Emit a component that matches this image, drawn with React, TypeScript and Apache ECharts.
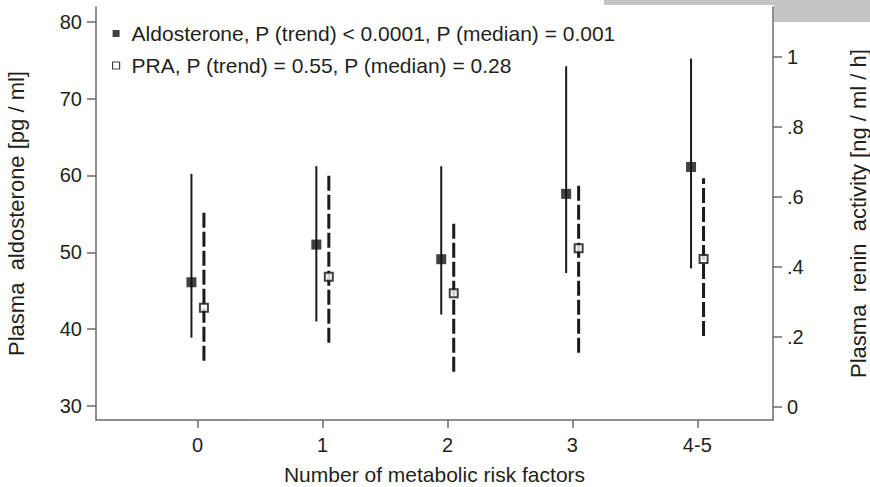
import React, { useEffect, useRef } from "react";
import * as echarts from "echarts";

const categories = ["0", "1", "2", "3", "4-5"];
const aldoMedian = [46.1, 51.0, 49.1, 57.6, 61.1];
const aldoLow = [38.9, 41.0, 41.9, 47.3, 47.9];
const aldoHigh = [60.2, 61.2, 61.2, 74.2, 75.2];
const praMedian = [0.283, 0.371, 0.324, 0.453, 0.422];
const praLow = [0.131, 0.183, 0.1, 0.154, 0.202];
const praHigh = [0.56, 0.664, 0.531, 0.64, 0.653];
const leftTicks = [30, 40, 50, 60, 70, 80];
const rightTicks = [0, 0.2, 0.4, 0.6, 0.8, 1];
const rightTickLabels = ["0", ".2", ".4", ".6", ".8", "1"];
const aldoName = "Aldosterone, P (trend) < 0.0001, P (median) = 0.001";
const praName = "PRA, P (trend) = 0.55, P (median) = 0.28";

const AXIS_COLOR = "#6b6b6b";
const TEXT_COLOR = "#231f20";
const FONT = "'Liberation Sans', Arial, Helvetica, sans-serif";
const ALDO_OFFSET = -0.05;
const PRA_OFFSET = 0.05;

export default function App() {
  const ref = useRef<HTMLDivElement>(null);

  useEffect(() => {
    if (!ref.current) return;
    const chart = echarts.init(ref.current, undefined, { renderer: "svg" });

    const aldoBars = categories.map((_, i) => [i + ALDO_OFFSET, aldoLow[i], aldoHigh[i]]);
    const praBars = categories.map((_, i) => [i + PRA_OFFSET, praLow[i], praHigh[i]]);
    const aldoPts = categories.map((_, i) => [i + ALDO_OFFSET, aldoMedian[i]]);
    const praPts = categories.map((_, i) => [i + PRA_OFFSET, praMedian[i]]);

    const makeRender = (dash: number[] | null, width: number) => (params: any, api: any) => {
      const x = api.value(0);
      const lo = api.coord([x, api.value(1)]);
      const hi = api.coord([x, api.value(2)]);
      return {
        type: "line",
        shape: { x1: lo[0], y1: lo[1], x2: hi[0], y2: hi[1] },
        style: {
          stroke: "#1a1a1a",
          lineWidth: width,
          lineDash: dash || undefined,
        },
      };
    };

    const option: any = {
      animation: false,
      textStyle: { fontFamily: FONT, color: TEXT_COLOR },
      grid: { left: 96, right: 97, top: 7, bottom: 67, containLabel: false, outerBoundsMode: "none" },
      legend: {
        orient: "vertical",
        left: 107,
        top: 18,
        itemGap: 11,
        itemWidth: 7,
        itemHeight: 7,
        icon: "rect",
        selectedMode: false,
        textStyle: {
          fontSize: 21,
          lineHeight: 21,
          color: TEXT_COLOR,
          fontFamily: FONT,
          padding: [0, 0, 0, 7],
        },
        data: [
          { name: aldoName, icon: "rect", itemStyle: { color: "#111111", borderWidth: 0 } },
          {
            name: praName,
            icon: "rect",
            itemStyle: { color: "#ffffff", borderColor: "#111111", borderWidth: 1.2 },
          },
        ],
      },
      xAxis: {
        type: "value",
        min: -0.814,
        max: 4.606,
        name: "Number of metabolic risk factors",
        nameLocation: "middle",
        nameGap: 44,
        nameTextStyle: { fontSize: 21, lineHeight: 21, color: TEXT_COLOR, fontFamily: FONT },
        axisLine: { show: true, onZero: false, lineStyle: { color: AXIS_COLOR, width: 1.5 } },
        axisTick: {
          show: true,
          length: 8,
          customValues: [0, 1, 2, 3, 4],
          lineStyle: { color: AXIS_COLOR, width: 1.5 },
        },
        axisLabel: {
          show: true,
          fontSize: 20,
          color: TEXT_COLOR,
          margin: 15,
          customValues: [0, 1, 2, 3, 4],
          formatter: (v: number) => categories[Math.round(v)],
        },
        splitLine: { show: false },
      },
      yAxis: [
        {
          type: "value",
          position: "left",
          min: 28.18,
          max: 81.91,
          name: "Plasma  aldosterone [pg / ml]",
          nameLocation: "middle",
          nameGap: 69,
          nameTextStyle: { fontSize: 22, color: TEXT_COLOR, fontFamily: FONT },
          axisLine: { show: true, onZero: false, lineStyle: { color: AXIS_COLOR, width: 1.5 } },
          axisTick: {
            show: true,
            length: 9,
            customValues: leftTicks,
            lineStyle: { color: AXIS_COLOR, width: 1.5 },
          },
          axisLabel: {
            show: true,
            fontSize: 20,
            color: TEXT_COLOR,
            margin: 14,
            customValues: leftTicks,
          },
          splitLine: { show: false },
        },
        {
          type: "value",
          position: "right",
          min: -0.038,
          max: 1.142,
          name: "Plasma  renin  activity [ng / ml / h]",
          nameLocation: "middle",
          nameGap: 74,
          nameTextStyle: { fontSize: 22, lineHeight: 22, color: TEXT_COLOR, fontFamily: FONT },
          axisLine: { show: true, onZero: false, lineStyle: { color: AXIS_COLOR, width: 1.5 } },
          axisTick: {
            show: true,
            length: 9,
            customValues: rightTicks,
            lineStyle: { color: AXIS_COLOR, width: 1.5 },
          },
          axisLabel: {
            show: true,
            fontSize: 20,
            color: TEXT_COLOR,
            margin: 14,
            customValues: rightTicks,
            formatter: (v: number) => {
              const idx = rightTicks.findIndex((t) => Math.abs(t - v) < 1e-6);
              return idx >= 0 ? rightTickLabels[idx] : "";
            },
          },
          splitLine: { show: false },
        },
      ],
      graphic: [
        { type: "rect", shape: { x: 604, y: 0, width: 266, height: 5 }, style: { fill: "#c4c4c4" }, z: 100 },
        { type: "rect", shape: { x: 774, y: 0, width: 96, height: 22 }, style: { fill: "#c4c4c4" }, z: 100 },
      ],
      series: [
        {
          type: "custom",
          name: "aldoBars",
          xAxisIndex: 0,
          yAxisIndex: 0,
          data: aldoBars,
          encode: { x: 0, y: [1, 2] },
          renderItem: makeRender(null, 2),
          z: 2,
        },
        {
          type: "custom",
          name: "praBars",
          xAxisIndex: 0,
          yAxisIndex: 1,
          data: praBars,
          encode: { x: 0, y: [1, 2] },
          renderItem: makeRender([15, 4], 3),
          z: 2,
        },
        {
          type: "scatter",
          name: aldoName,
          xAxisIndex: 0,
          yAxisIndex: 0,
          data: aldoPts,
          symbol: "rect",
          symbolSize: 10,
          itemStyle: { color: "#111111" },
          z: 5,
        },
        {
          type: "scatter",
          name: praName,
          xAxisIndex: 0,
          yAxisIndex: 1,
          data: praPts,
          symbol: "rect",
          symbolSize: 8,
          itemStyle: { color: "#ffffff", borderColor: "#111111", borderWidth: 2 },
          z: 5,
        },
      ],
    };

    chart.setOption(option);
    return () => chart.dispose();
  }, []);

  return (
    <div
      ref={ref}
      style={{ position: "absolute", left: 0, top: 0, width: 870, height: 487, background: "#ffffff" }}
    />
  );
}
